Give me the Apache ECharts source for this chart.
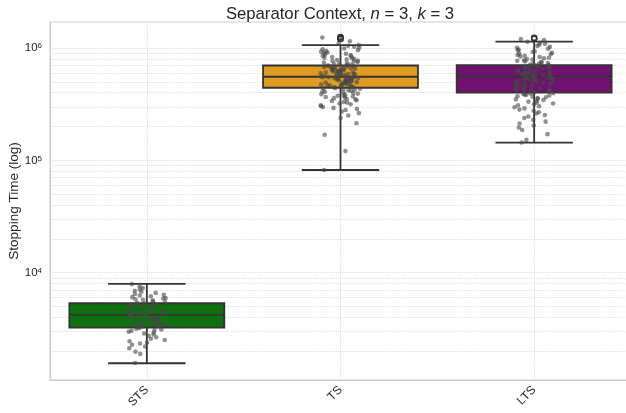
<!DOCTYPE html>
<html><head><meta charset="utf-8">
<script src="https://cdn.jsdelivr.net/npm/echarts@6/dist/echarts.min.js"></script>
<style>html,body{margin:0;padding:0;background:#fff}#c{width:626px;height:413px}</style>
</head><body><div id="c"></div>
<script>
const categories = ['STS', 'TS', 'LTS'];
const boxColors = ['#107010', '#df9c20', '#701070'];
// [lower whisker, q1, median, q3, upper whisker]
const boxStats = [
  [1560, 3240, 4200, 5340, 7930],
  [82000, 443000, 555000, 699000, 1063000],
  [144000, 400000, 558000, 705000, 1138000]
];
const outliers = [[], [1205000, 1220000, 1235000, 1250000], [1215000, 1235000]];
const stsPoints = [7900, 7550, 7300, 7100, 6900, 6750, 6600, 6450, 6350, 6250, 6150, 6050, 5950, 5880, 5800, 5720, 5650, 5560, 5480, 5400,
  5320, 5260, 5190, 5120, 5060, 5000, 4940, 4880, 4830, 4770, 4710, 4660, 4600, 4540, 4490, 4430, 4380, 4330, 4280, 4230, 4200,
  4160, 4110, 4060, 4010, 3960, 3910, 3860, 3810, 3760, 3720, 3670, 3620, 3580, 3530, 3480, 3440, 3390, 3340, 3300, 3260,
  3210, 3170, 3120, 3080, 3030, 2980, 2930, 2870, 2810, 2740, 2660, 2580, 2510, 2450, 2390, 2340, 2280, 2200, 2120, 1980, 1890, 1570];
const tsPoints = [82000, 121000, 169000, 214000, 238000, 251000, 263000, 272000, 281000, 287000, 293000, 298000,
  304000, 309000, 316000, 321000, 327000, 331000, 338000, 343000, 349000, 352000, 358000, 362000, 366000, 371000, 376000, 379000, 384000, 388000, 393000, 398000, 402000, 407000, 411000, 416000, 420000, 425000, 429000, 434000, 438000, 441000,
  446000, 449000, 453000, 456000, 459000, 463000, 466000, 470000, 473000, 476000, 480000, 483000, 486000, 489000, 493000, 496000, 499000, 503000, 506000, 509000, 512000, 516000, 519000, 522000, 525000, 528000, 531000, 534000, 536000, 539000, 541000, 544000, 547000, 549000, 551000, 553000,
  557000, 561000, 564000, 568000, 571000, 575000, 578000, 582000, 586000, 590000, 593000, 597000, 601000, 605000, 609000, 612000, 616000, 620000, 624000, 628000, 632000, 637000, 641000, 645000, 649000, 654000, 658000, 662000, 667000, 671000, 676000, 681000, 686000, 690000, 695000, 698000,
  704000, 711000, 719000, 726000, 733000, 741000, 749000, 757000, 766000, 774000, 783000, 792000, 801000, 811000, 821000, 831000, 842000, 853000, 864000, 876000, 888000, 901000, 914000, 928000, 942000, 957000, 973000, 990000, 1008000, 1027000, 1046000, 1063000, 1105000, 1150000, 1180000, 1210000, 1240000];
const ltsPoints = [144000, 152000, 171000, 186000, 196000, 204000, 213000, 221000, 229000, 238000, 246000, 253000, 261000, 268000, 276000, 283000, 290000, 297000,
  303000, 309000, 315000, 321000, 327000, 333000, 338000, 344000, 349000, 354000, 359000, 364000, 369000, 373000, 378000, 382000, 386000, 390000, 394000, 397000,
  403000, 408000, 413000, 418000, 423000, 428000, 433000, 438000, 443000, 448000, 453000, 458000, 463000, 468000, 473000, 478000, 483000, 488000, 493000, 498000, 503000, 508000, 513000, 518000, 523000, 528000, 533000, 538000, 543000, 548000, 552000, 556000,
  561000, 566000, 571000, 576000, 581000, 586000, 591000, 596000, 601000, 606000, 611000, 616000, 621000, 626000, 631000, 636000, 641000, 646000, 651000, 656000, 661000, 666000, 671000, 676000, 681000, 686000, 691000, 696000, 700000, 704000,
  711000, 719000, 727000, 735000, 744000, 752000, 761000, 770000, 779000, 789000, 799000, 809000, 820000, 831000, 842000, 854000, 866000, 879000, 892000, 906000, 921000, 936000, 952000, 969000, 987000, 1005000, 1025000, 1046000, 1068000, 1092000, 1115000, 1138000, 1175000, 1205000];
const yMin = 1107, yMax = 1705000;
const decades = [1000, 10000, 100000, 1000000];
const gridMultipliers = [1, 2, 3, 4, 5, 6, 7, 8, 9];

const gridValues = [];
decades.forEach(d => gridMultipliers.forEach(m => { const v = d * m; if (v > yMin && v < yMax) gridValues.push(v); }));

const FONT = 'Arial, "Liberation Sans", sans-serif';
const TXT = '#262626';
const chart = echarts.init(document.getElementById('c'), null, {renderer: 'canvas'});

function renderBox(params, api) {
  const i = api.value(0);
  const lo = api.coord([i, api.value(1)]);
  const q1 = api.coord([i, api.value(2)]);
  const md = api.coord([i, api.value(3)]);
  const q3 = api.coord([i, api.value(4)]);
  const hi = api.coord([i, api.value(5)]);
  const bw = api.size([1, 0])[0] * 0.8;
  const x = lo[0];
  const cap = bw / 4;
  const ls = {stroke: '#333333', lineWidth: 1.8};
  return {type: 'group', children: [
    {type: 'line', shape: {x1: x, y1: q1[1], x2: x, y2: lo[1]}, style: ls},
    {type: 'line', shape: {x1: x, y1: q3[1], x2: x, y2: hi[1]}, style: ls},
    {type: 'line', shape: {x1: x - cap, y1: lo[1], x2: x + cap, y2: lo[1]}, style: ls},
    {type: 'line', shape: {x1: x - cap, y1: hi[1], x2: x + cap, y2: hi[1]}, style: ls},
    {type: 'rect', shape: {x: x - bw / 2, y: q3[1], width: bw, height: q1[1] - q3[1]}, style: {fill: boxColors[i], stroke: '#333333', lineWidth: 1.8}},
    {type: 'line', shape: {x1: x - bw / 2, y1: md[1], x2: x + bw / 2, y2: md[1]}, style: ls}
  ]};
}
function renderOutlier(params, api) {
  const p = api.coord([api.value(0), api.value(1)]);
  return {type: 'circle', shape: {cx: p[0], cy: p[1], r: 2.6}, style: {fill: 'none', stroke: '#333333', lineWidth: 1.4}};
}

const outlierData = [];
outliers.forEach((arr, i) => arr.forEach(v => outlierData.push([i, v])));
const pointSets = [stsPoints, tsPoints, ltsPoints];

const option = {
  animation: false,
  backgroundColor: '#ffffff',
  grid: {left: 50, right: -5, top: 22, bottom: 33, show: true, borderColor: '#cccccc', borderWidth: 1, containLabel: false, outerBoundsMode: 'none'},
  graphic: [{
    type: 'text', x: 340, y: 14,
    style: {
      text: 'Separator Context, {i|n} = 3, {i|k} = 3',
      font: '16.7px ' + FONT, fill: TXT, align: 'center', verticalAlign: 'middle',
      rich: {i: {fontStyle: 'italic', fontSize: 16.7, fontFamily: FONT, fill: TXT}}
    }
  }],
  xAxis: {
    type: 'category', data: categories, jitter: 40,
    axisLine: {show: true, lineStyle: {color: '#cccccc'}},
    axisTick: {show: false},
    splitLine: {show: false},
    axisLabel: {rotate: 45, margin: 8, color: TXT, fontSize: 12, fontFamily: FONT}
  },
  yAxis: {
    type: 'log', logBase: 10, min: yMin, max: yMax,
    name: 'Stopping Time (log)', nameLocation: 'middle', nameGap: 29, nameMoveOverlap: false,
    nameTextStyle: {color: TXT, fontSize: 13.5, fontFamily: FONT},
    axisLine: {show: true, lineStyle: {color: '#cccccc'}},
    axisTick: {show: false},
    splitLine: {show: false},
    axisLabel: {
      showMinLabel: false, showMaxLabel: false, margin: 8,
      color: TXT, fontSize: 11.5, fontFamily: FONT,
      formatter: v => '10{s|' + Math.round(Math.log10(v)) + '}',
      rich: {s: {fontSize: 8, fontFamily: FONT, color: TXT, verticalAlign: 'top', lineHeight: 8, padding: [0, 0, 8, 0]}}
    }
  },
  series: [
    {
      type: 'line', data: [], z: 0, silent: true,
      markLine: {
        z: 0, silent: true, symbol: 'none', label: {show: false}, animation: false,
        lineStyle: {color: '#d8d8d8', width: 0.9, type: 'dotted'},
        data: gridValues.map(v => ({yAxis: v})).concat(categories.map(c => ({xAxis: c})))
      }
    },
    {
      type: 'custom', z: 10, renderItem: renderBox,
      dimensions: ['x', 'lo', 'q1', 'med', 'q3', 'hi'],
      encode: {x: 0, y: [1, 2, 3, 4, 5]},
      data: boxStats.map((s, i) => [i].concat(s))
    },
    {
      type: 'custom', z: 11, renderItem: renderOutlier,
      encode: {x: 0, y: 1}, data: outlierData
    }
  ].concat(pointSets.map((pts, i) => ({
    type: 'scatter', z: 12, symbolSize: 4.6,
    itemStyle: {color: 'rgba(72,72,72,0.75)'},
    data: pts.map(v => [categories[i], v])
  })))
};
chart.setOption(option);
</script></body></html>
